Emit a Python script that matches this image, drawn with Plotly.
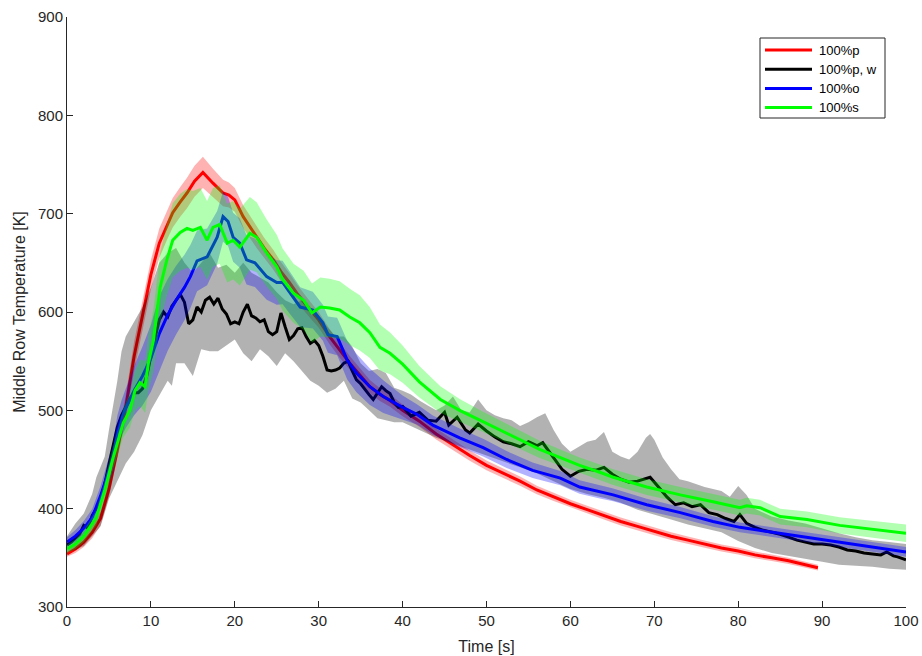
import plotly.graph_objects as go

# ---------------- data ----------------
series_names = ["100%p", "100%p, w", "100%o", "100%s"]
series_colors = ["#ff0000", "#000000", "#0000ff", "#00ff00"]

# 100%p (red)
red_t = [0, 1, 2, 3, 4, 5, 6, 7, 8, 9, 10, 11, 12, 12.6, 13.5, 14.3, 15.2, 16.2, 17.4, 18.6, 19.3, 20,
         21, 22, 22.6, 23.5, 24.6, 25.5, 26.5, 27.5, 29, 30, 31.3, 32.5, 33.7, 35, 36.1, 37.3, 38.5, 40,
         42, 44, 46, 48, 50, 52, 54, 56, 58, 60, 62, 64, 66, 68, 70, 72, 74, 76, 78, 80, 82, 84, 86, 88, 89.5]
red_y = [354, 359, 366, 376, 390, 420, 460, 503, 555, 598, 638, 670, 690, 701, 712, 721, 733, 742, 731, 721, 719, 714,
         697, 684, 676, 665, 653, 641, 630, 618, 602, 592, 575, 561, 548, 535, 524, 516, 510, 500,
         489, 476, 465, 454, 444, 436, 428, 419, 412, 405, 399, 393, 387, 382, 377, 372, 368, 364, 360, 357, 353, 350, 347, 343, 340]
red_band_t = [0, 5, 8, 10, 13, 16, 20, 25, 30, 35, 40, 50, 60, 70, 89.5]
red_band_hw = [3, 8, 15, 15, 15, 16, 12, 10, 8, 7, 6, 5, 4, 4, 3]

# 100%p, w (black)
blk_t = [0, 0.5, 1, 1.5, 2, 2.5, 3, 3.5, 4, 4.5, 5, 5.5, 6, 6.5, 7, 7.5, 8, 8.5, 9, 9.5, 10, 10.5, 11, 11.5,
         12, 12.5, 13, 13.5, 14, 14.5, 15, 15.5, 16, 16.5, 17, 17.5, 18, 18.5, 19, 19.5, 20, 20.5, 21, 21.5,
         22, 22.5, 23, 23.5, 24, 24.5, 25, 25.5, 26, 26.5, 27, 27.5, 28, 28.5, 29, 29.5, 30, 30.5, 31, 31.5,
         32, 32.5, 33, 33.5, 34, 34.5, 35, 35.5, 36, 36.5, 37, 37.5, 38, 38.5, 39, 39.5, 40, 41, 42, 43, 44,
         45, 45.5, 46.5, 47.5, 48, 49, 50, 51, 52, 53, 54, 55, 56, 56.7, 58, 59, 60, 61, 62, 63, 64, 65, 66,
         67, 68, 69, 69.5, 70.5, 71.5, 72.5, 73.5, 74.5, 75.5, 76.5, 77.5, 78.5, 79.5, 80.2, 81, 82, 83, 84,
         85, 86, 87, 88, 89, 90, 91, 92, 93, 94, 95, 96, 97, 97.7, 98.5, 99, 100]
blk_y = [363, 366, 370, 374, 383, 380, 393, 400, 410, 425, 445, 465, 483, 495, 503, 512, 518, 518, 522, 535,
         555, 575, 592, 600, 595, 606, 612, 618, 610, 588, 592, 605, 600, 612, 615, 608, 614, 603, 598, 588,
         590, 588, 600, 608, 596, 594, 590, 592, 580, 577, 580, 599, 585, 572, 576, 583, 584, 575, 568, 571,
         566, 555, 541, 540, 541, 543, 548, 550, 540, 531, 527, 521, 516, 511, 518, 524, 520, 517, 508, 503,
         504, 494, 498, 490, 489, 498, 485, 493, 480, 477, 486, 479, 473, 468, 466, 463, 468, 464, 467, 452,
         440, 433, 438, 440, 439, 442, 435, 430, 427, 428, 431, 432, 422, 412, 404, 406, 402, 404, 396, 394,
         390, 387, 394, 385, 381, 378, 376, 374, 371, 368, 366, 364, 364, 363, 361, 358, 357, 355, 354, 353,
         356, 352, 351, 348]
blk_band_t = [0, 1, 2, 3, 3.5, 4.5, 5, 5.5, 6, 6.5, 7, 8, 9, 10, 11, 12, 13, 14, 15, 16, 17, 18, 19, 20, 21,
              22, 23, 24, 25, 26, 27, 28, 29, 30, 31, 32, 33, 34, 35, 36, 37, 38, 39, 40, 41, 42, 43, 44, 45,
              46, 47, 48, 49, 50, 51, 52, 53, 54, 55, 56, 57, 58, 59, 60, 61, 62, 63, 64, 65, 66, 67, 68, 69,
              69.5, 70, 71, 72, 73, 74, 75, 76, 77, 78, 79, 80, 81, 82, 84, 86, 88, 90, 92, 94, 96, 98, 100]
blk_upper = [372, 385, 395, 415, 432, 453, 480, 505, 530, 560, 575, 590, 605, 625, 650, 660, 665, 650, 640, 650,
             660, 645, 648, 640, 650, 640, 635, 630, 620, 612, 608, 612, 600, 595, 585, 575, 575, 565, 548, 540,
             542, 538, 523, 520, 516, 510, 505, 500, 505, 514, 500, 498, 511, 500, 495, 492, 490, 484, 488, 493,
             497, 480, 466, 458, 463, 468, 470, 478, 458, 453, 450, 458, 472, 476, 470, 452, 440, 430, 428, 425,
             422, 420, 418, 412, 423, 414, 400, 392, 388, 385, 380, 375, 371, 368, 366, 364]
blk_lower_t = [0, 1, 2, 3, 4, 5, 6, 7, 8, 9, 10, 11, 12, 12.5, 13, 14, 15, 16, 17, 18, 19, 20, 21, 22, 23, 24,
               25, 26, 27, 28, 29, 30, 31, 32, 33, 34, 35, 36, 37, 38, 39, 40, 42, 44, 46, 48, 50, 52, 54, 56,
               58, 60, 62, 64, 66, 68, 70, 72, 74, 76, 78, 80, 82, 84, 86, 88, 90, 92, 94, 96, 98, 100]
blk_lower = [356, 358, 362, 372, 382, 410, 428, 446, 458, 475, 500, 515, 530, 525, 548, 548, 535, 562, 560, 560,
             566, 572, 558, 550, 562, 555, 545, 558, 550, 540, 530, 525, 518, 522, 530, 512, 508, 500, 492, 490,
             488, 488, 480, 472, 466, 460, 454, 448, 442, 436, 428, 420, 415, 411, 406, 399, 394, 389, 384, 380,
             376, 367, 360, 355, 352, 349, 346, 343, 342, 341, 339, 338]

# 100%o (blue)
blu_t = [0, 1, 2, 3, 4, 5, 5.5, 6, 6.5, 7, 8, 9, 10, 11, 12, 13, 14, 14.7, 15.5, 16.7, 17.9, 18.6, 19.2, 19.8,
         20.6, 21.4, 22.4, 23.8, 25, 25.7, 26.6, 27.8, 29.3, 30.5, 31.1, 32.2, 33.4, 34.5, 36.1, 37.7, 40, 41.7,
         43.6, 46.8, 49.6, 52.4, 55.5, 58.8, 61.1, 63.5, 65.1, 69.1, 73.1, 77, 80.2, 84.1, 88.2, 92.1, 96, 100]
blu_y = [366, 372, 380, 391, 413, 440, 452, 478, 492, 502, 520, 535, 553, 578, 597, 612, 625, 636, 652, 656, 676,
         697, 692, 676, 670, 653, 650, 636, 630, 630, 619, 605, 602, 589, 577, 575, 551, 538, 524, 514, 503, 496,
         485, 472, 462, 450, 439, 431, 422, 417, 414, 404, 396, 387, 381, 376, 371, 366, 361, 356]
blu_band_t = [0, 4, 7, 9, 11, 13, 16, 19, 22, 26, 30, 34, 37, 40, 42, 50, 60, 70, 80, 100]
blu_band_hw = [5, 10, 20, 30, 38, 35, 30, 25, 25, 22, 18, 20, 18, 12, 10, 9, 7, 6, 5, 5]

# 100%s (green)
grn_t = [0, 1, 2, 2.5, 3.5, 4.5, 5.5, 6.7, 7.5, 8.1, 8.7, 9.3, 9.7, 10.3, 11.1, 11.9, 12.6, 13.5, 14.3, 15, 15.9,
         16.7, 17.4, 18.2, 19.1, 19.8, 20.6, 21.8, 22.6, 23.8, 25, 25.7, 27, 28.2, 29.2, 30.2, 31.3, 32.5, 33.7,
         34.9, 36.1, 37.3, 38.5, 40, 42, 44.5, 46.8, 49.2, 51.6, 54, 56.4, 58.8, 61.1, 63.5, 65.1, 69.1, 73.1,
         77, 80.2, 81, 82.6, 85, 88.2, 92.1, 95.3, 100]
grn_y = [359, 364, 372, 378, 391, 419, 452, 487, 500, 520, 528, 524, 548, 571, 625, 653, 673, 681, 685, 683, 686,
         673, 686, 689, 670, 673, 666, 680, 676, 660, 646, 633, 619, 612, 599, 605, 604, 602, 595, 589, 579, 564,
         558, 547, 529, 511, 500, 490, 480, 470, 460, 452, 444, 437, 432, 422, 414, 407, 401, 403, 401, 392, 389,
         383, 380, 375]
grn_band_t = [0, 4, 7, 9, 11, 14, 17, 20, 23, 27, 31, 35, 38, 42, 46, 50, 60, 70, 80, 90, 100]
grn_band_hw = [4, 8, 15, 25, 35, 40, 40, 40, 35, 30, 30, 28, 22, 16, 12, 10, 8, 8, 8, 8, 9]

x_ticks = [0, 10, 20, 30, 40, 50, 60, 70, 80, 90, 100]
y_ticks = [300, 400, 500, 600, 700, 800, 900]

# ---------------- layout geometry (pixels) ----------------
W, H = 922, 656
L, R, T, B = 67, 16, 17, 49
PW, PH = W - L - R, H - T - B

def px_x(p):
    return (p - L) / PW

def px_y(p):
    return (H - B - p) / PH

# ---------------- helpers ----------------
def interp(xs, ys, x):
    if x <= xs[0]:
        return ys[0]
    for i in range(1, len(xs)):
        if x <= xs[i]:
            f = (x - xs[i - 1]) / (xs[i] - xs[i - 1])
            return ys[i - 1] + f * (ys[i] - ys[i - 1])
    return ys[-1]

def band_poly(t, y, bt, hw):
    up = [v + interp(bt, hw, x) for x, v in zip(t, y)]
    lo = [v - interp(bt, hw, x) for x, v in zip(t, y)]
    return t + t[::-1], up + lo[::-1]

fig = go.Figure()

def add_band(px, py, rgb):
    fig.add_trace(go.Scatter(x=px, y=py, fill="toself", mode="lines", line=dict(width=0),
                             fillcolor="rgba(%d,%d,%d,0.3)" % rgb, showlegend=False, hoverinfo="skip"))

def add_line(t, y, color, name):
    fig.add_trace(go.Scatter(x=t, y=y, mode="lines", line=dict(color=color, width=3), name=name,
                             showlegend=False))

# red
px, py = band_poly(red_t, red_y, red_band_t, red_band_hw)
add_band(px, py, (255, 0, 0))
add_line(red_t, red_y, series_colors[0], series_names[0])
# black
add_band(blk_band_t + blk_lower_t[::-1], blk_upper + blk_lower[::-1], (0, 0, 0))
add_line(blk_t, blk_y, series_colors[1], series_names[1])
# blue
px, py = band_poly(blu_t, blu_y, blu_band_t, blu_band_hw)
add_band(px, py, (0, 0, 255))
add_line(blu_t, blu_y, series_colors[2], series_names[2])
# green
px, py = band_poly(grn_t, grn_y, grn_band_t, grn_band_hw)
add_band(px, py, (0, 255, 0))
add_line(grn_t, grn_y, series_colors[3], series_names[3])

axis_color = "#262626"

# ---------------- legend drawn manually (MATLAB style) ----------------
shapes = [dict(type="rect", xref="paper", yref="paper",
               x0=px_x(760), x1=px_x(885), y0=px_y(118), y1=px_y(38),
               line=dict(color=axis_color, width=1), fillcolor="white", layer="above")]
annotations = []
for i, (nm, col) in enumerate(zip(series_names, series_colors)):
    yy = 50 + i * 19.2
    shapes.append(dict(type="line", xref="paper", yref="paper",
                       x0=px_x(765), x1=px_x(812), y0=px_y(yy), y1=px_y(yy),
                       line=dict(color=col, width=3), layer="above"))
    annotations.append(dict(xref="paper", yref="paper", x=px_x(817), y=px_y(yy),
                            xanchor="left", yanchor="middle", text=nm, showarrow=False,
                            font=dict(size=13, color="#000000")))

fig.update_layout(
    width=W, height=H,
    margin=dict(l=L, r=R, t=T, b=B),
    paper_bgcolor="white", plot_bgcolor="white",
    font=dict(family="Liberation Sans, Arial, sans-serif", size=15, color=axis_color),
    showlegend=False,
    shapes=shapes, annotations=annotations,
    xaxis=dict(range=[0, 100], tickvals=x_ticks, ticks="inside", ticklen=6, tickcolor=axis_color,
               showline=True, linecolor=axis_color, linewidth=1, showgrid=False, zeroline=False,
               automargin=False,
               title=dict(text="Time [s]", standoff=12, font=dict(size=16)), tickfont=dict(size=15)),
    yaxis=dict(range=[300, 900], tickvals=y_ticks, ticks="inside", ticklen=6, tickcolor=axis_color,
               showline=True, linecolor=axis_color, linewidth=1, showgrid=False, zeroline=False,
               automargin=False,
               title=dict(text="Middle Row Temperature [K]", standoff=8, font=dict(size=16)),
               tickfont=dict(size=15)),
)

fig.write_html("out.html")
